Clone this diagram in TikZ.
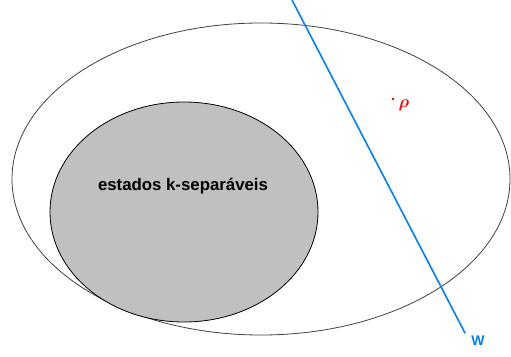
\documentclass[tikz,border=0pt]{standalone}
\usepackage{bm}
\usepackage{fontspec}
\setmainfont{Liberation Sans}
\definecolor{sepgray}{RGB}{192,192,192}
\definecolor{wblue}{RGB}{0,128,255}
\definecolor{rhored}{RGB}{255,0,0}
\begin{document}
\begin{tikzpicture}[x=1pt,y=-1pt,line cap=round,line join=round,every node/.style={font=\bfseries}]
\useasboundingbox (0,0) rectangle (511,356);
\coordinate (Oext) at (261,179);
\coordinate (Oint) at (184,212);
\coordinate (W0)   at (292,0);
\coordinate (W1)   at (465,333);
\coordinate (R)    at (393,99);

% Set of all states.
\draw[black!75,line width=0.8pt] (Oext) ellipse [x radius=249,y radius=156];

% Separable states.
\draw[fill=sepgray,line width=0.8pt] (Oint) ellipse [x radius=134,y radius=110];

% Witness hyperplane.
\draw[wblue,line width=1.6pt] (W0)--(W1);

\fill[rhored] (R) circle [radius=1.3];

\node[font=\bfseries\fontsize{16.8}{18}\selectfont] (sep) at (183,186) {estados k-separáveis};
\node[text=rhored,font=\fontsize{17}{17}\selectfont,inner sep=0pt] (rho) at (404,105) {$\bm{\rho}$};
\node[text=wblue,font=\bfseries\fontsize{14}{14}\selectfont,inner sep=0pt] (W) at (478,341) {W};
\end{tikzpicture}
\end{document}
